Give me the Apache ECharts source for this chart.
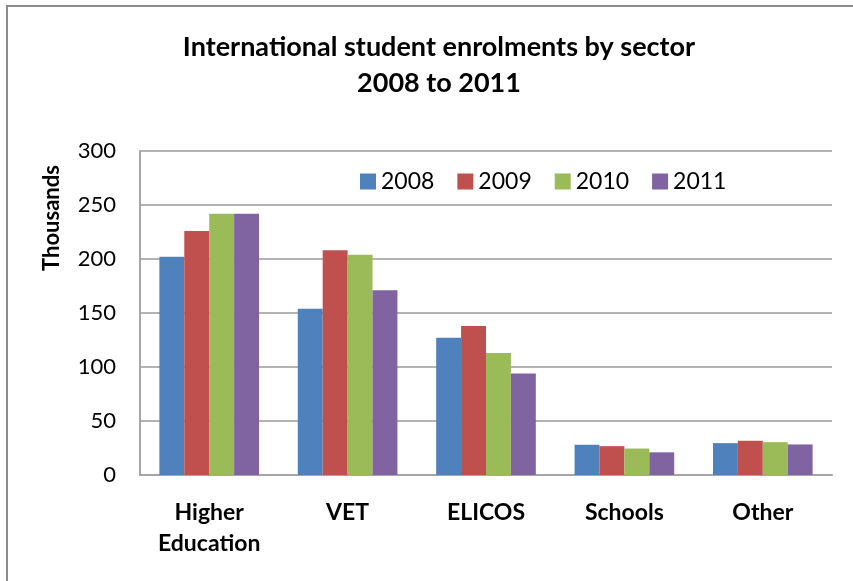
<!DOCTYPE html>
<html>
<head>
<meta charset="utf-8">
<script src="https://cdn.jsdelivr.net/npm/echarts@6/dist/echarts.min.js"></script>
<style>html,body{margin:0;padding:0;background:#fff}#c{width:853px;height:581px}</style>
</head>
<body>
<div id="c"></div>
<script>
var categories = ['Higher\nEducation', 'VET', 'ELICOS', 'Schools', 'Other'];
var years = ['2008', '2009', '2010', '2011'];
var v2008 = [202, 154, 127, 28, 29.5];
var v2009 = [226, 208, 138, 26.7, 31.7];
var v2010 = [242, 204, 113, 24.5, 30.4];
var v2011 = [242, 171, 94, 21, 28.3];
var yTicks = [0, 50, 100, 150, 200, 250, 300];
var colors = ['#4F81BD', '#C0504D', '#9BBB59', '#8064A2'];
var seriesValues = [v2008, v2009, v2010, v2011];

var FONT = 'Lato';
var chart = echarts.init(document.getElementById('c'));
chart.setOption({
  animation: false,
  textStyle: {fontFamily: FONT},
  title: {
    text: 'International student enrolments by sector\n2008 to 2011',
    left: 434, top: 24, textAlign: 'center',
    textStyle: {fontFamily: FONT, fontSize: 27, fontWeight: 'bold', color: '#000', lineHeight: 36}
  },
  legend: {
    data: years,
    left: 360, top: 170, padding: 0,
    itemWidth: 16, itemHeight: 16, itemGap: 23,
    icon: 'rect',
    textStyle: {fontFamily: FONT, fontSize: 23, color: '#000'}
  },
  grid: {left: 140, right: 21, top: 151, bottom: 106, containLabel: false},
  xAxis: {
    type: 'category',
    data: categories,
    axisLine: {lineStyle: {color: '#a6a6a6', width: 2}},
    axisTick: {show: false},
    axisLabel: {fontFamily: FONT, fontSize: 23, fontWeight: 'bold', color: '#000', lineHeight: 31, margin: 22, interval: 0}
  },
  yAxis: {
    type: 'value',
    min: yTicks[0], max: yTicks[yTicks.length - 1], interval: yTicks[1] - yTicks[0],
    axisLine: {show: true, lineStyle: {color: '#a6a6a6', width: 2}},
    axisTick: {show: false},
    splitLine: {lineStyle: {color: '#b3b3b3', width: 2}},
    axisLabel: {fontFamily: FONT, fontSize: 22, color: '#000', margin: 24}
  },
  graphic: [
    {type: 'rect', shape: {x: 7, y: 6, width: 1000, height: 1000}, style: {fill: 'none', stroke: '#8c8c8c', lineWidth: 2}, silent: true},
    {type: 'text', x: 52, y: 218, rotation: Math.PI / 2,
     style: {text: 'Thousands', fontFamily: FONT, fontSize: 22, fontWeight: 'bold', fill: '#000', align: 'center', verticalAlign: 'middle'}}
  ],
  series: years.map(function (y, i) {
    return {
      name: y, type: 'bar', data: seriesValues[i],
      barGap: '0%', barCategoryGap: '28%',
      itemStyle: {color: colors[i]}
    };
  })
});
</script>
</body>
</html>
